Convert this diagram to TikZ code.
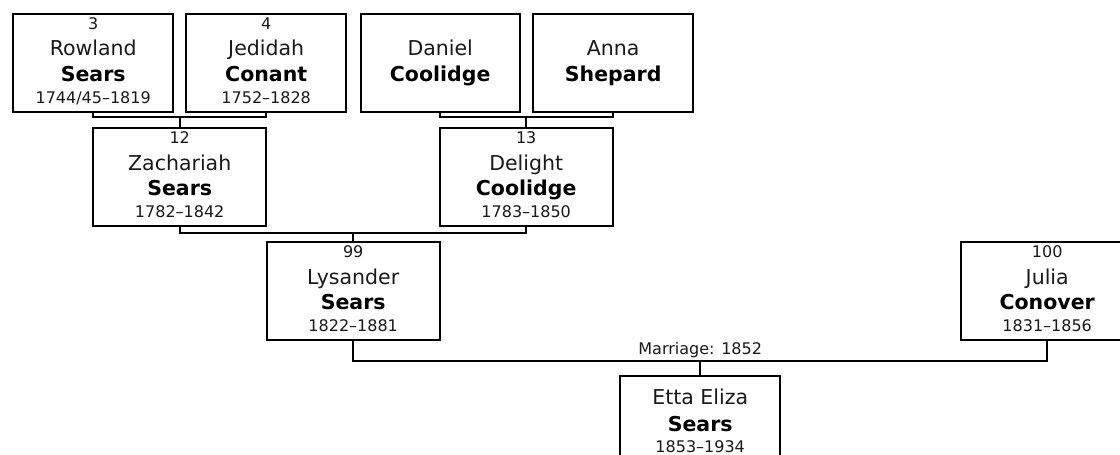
\documentclass[tikz,border=0pt]{standalone}
\usepackage{fontspec}
\setmainfont{DejaVu Sans}
\usetikzlibrary{calc}
\tikzset{
  pbox/.style={draw=black, line width=2.4pt, fill=white, inner sep=0pt, anchor=north west, minimum height=98pt},
  conn/.style={draw=black, line width=2.4pt},
  smalltxt/.style={anchor=base, inner sep=0pt, text=black!90, font=\fontsize{16}{19}\selectfont},
  firsttxt/.style={anchor=base, inner sep=0pt, text=black!90, font=\fontsize{20.5}{24}\selectfont},
  lasttxt/.style={anchor=base, inner sep=0pt, text=black, font=\fontsize{20.5}{24}\selectfont\bfseries},
  lbl/.style={anchor=south, inner sep=1.5pt, text=black!90, font=\fontsize{16}{19}\selectfont}
}
% \personbox{id}{x}{y}{width}{number}{first}{last}{dates}
\newcommand{\personbox}[8]{%
  \node[pbox, minimum width=#4pt] (#1) at (#2,#3) {};
  \node[smalltxt] (#1n) at ([yshift=-16.5pt]#1.north) {#5};
  \node[firsttxt] (#1f) at ([yshift=-43pt]#1.north) {#6};
  \node[lasttxt]  (#1l) at ([yshift=-68pt]#1.north) {#7};
  \node[smalltxt] (#1d) at ([yshift=-90pt]#1.north) {#8};
}
\begin{document}
\begin{tikzpicture}[x=1pt, y=-1pt]
\useasboundingbox (0,0) rectangle (1120,455);
\clip (0,0) rectangle (1120,455);
\fill[white] (0,0) rectangle (1120,455);

% top row
\personbox{row}{12}{13}{160}{3}{Rowland}{Sears}{1744/45–1819}
\personbox{jed}{185}{13}{160}{4}{Jedidah}{Conant}{1752–1828}
\node[pbox, minimum width=159pt] (dan) at (359.5,13) {};
\node[firsttxt] (danf) at ([yshift=-43pt]dan.north) {Daniel};
\node[lasttxt]  (danl) at ([yshift=-68pt]dan.north) {Coolidge};
\node[pbox, minimum width=160pt] (ann) at (532,13) {};
\node[firsttxt] (annf) at ([yshift=-43pt]ann.north) {Anna};
\node[lasttxt]  (annl) at ([yshift=-68pt]ann.north) {Shepard};

% second row
\personbox{zac}{92}{127}{173}{12}{Zachariah}{Sears}{1782–1842}
\personbox{del}{438.5}{127}{173}{13}{Delight}{Coolidge}{1783–1850}

% third row
\personbox{lys}{265.5}{241}{173}{99}{Lysander}{Sears}{1822–1881}
\personbox{jul}{959.5}{241}{173}{100}{Julia}{Conover}{1831–1856}

% child
\node[pbox, minimum width=160pt] (ett) at (619,375) {};
\node[firsttxt] (ettf) at ([yshift=-29pt]ett.north) {Etta Eliza};
\node[lasttxt]  (ettl) at ([yshift=-56.5pt]ett.north) {Sears};
\node[smalltxt] (ettd) at ([yshift=-77.5pt]ett.north) {1853–1934};

% connectors
\draw[conn] (row.south) |- ($(zac.north)+(0,-10)$) -| (jed.south);
\draw[conn] (zac.north) -- ++(0,-10);
\draw[conn] (dan.south) |- ($(del.north)+(0,-10)$) -| (ann.south);
\draw[conn] (del.north) -- ++(0,-10);
\draw[conn] (zac.south) |- ($(lys.north)+(0,-8)$) -| (del.south);
\draw[conn] (lys.north) -- ++(0,-8);
\coordinate (mar) at ($(ett.north)+(0,-14)$);
\draw[conn] (lys.south) |- (mar) -| (jul.south);
\draw[conn] (ett.north) -- (mar) node[lbl] {Marriage: 1852};
\end{tikzpicture}
\end{document}
